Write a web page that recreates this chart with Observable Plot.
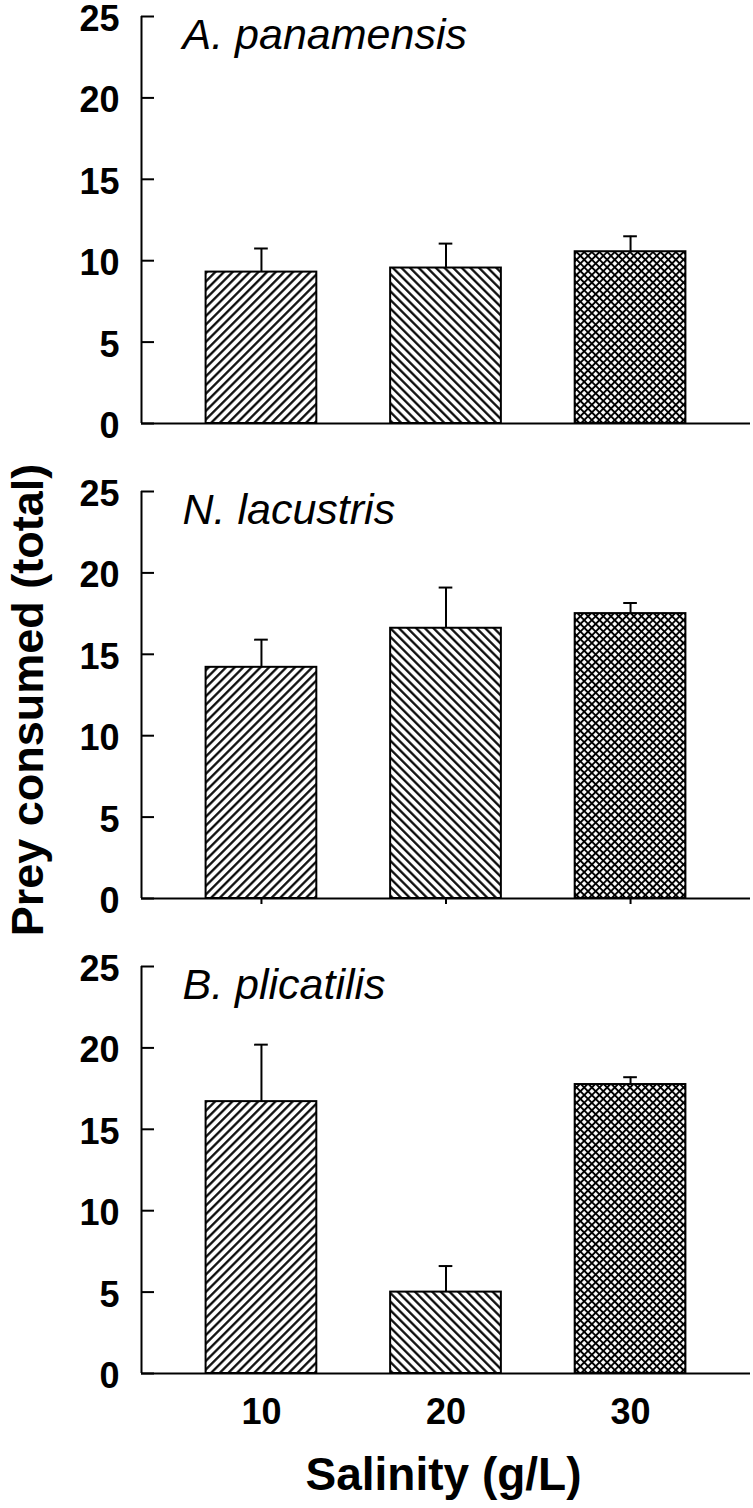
<!DOCTYPE html>
<html><head><meta charset="utf-8">
<script src="https://cdn.jsdelivr.net/npm/d3@7"></script>
<script src="https://cdn.jsdelivr.net/npm/@observablehq/plot@0.6"></script>
<style>
body{margin:0;background:#fff;}
#wrap{position:relative;width:753px;height:1508px;font-family:"Liberation Sans",Arial,sans-serif;background:#fff;}
.panel{position:absolute;left:0;}
#overlay{position:absolute;left:0;top:0;pointer-events:none;}
</style></head><body>
<svg width="0" height="0" style="position:absolute">
  <defs>
    <pattern id="hatch10" patternUnits="userSpaceOnUse" width="6.1" height="6.1" patternTransform="rotate(45)">
      <rect width="6.1" height="6.1" fill="#fff"/>
      <line x1="3" y1="-1" x2="3" y2="8" stroke="#000" stroke-width="2.2"/>
    </pattern>
    <pattern id="hatch20" patternUnits="userSpaceOnUse" width="6.1" height="6.1" patternTransform="rotate(-45)">
      <rect width="6.1" height="6.1" fill="#fff"/>
      <line x1="3" y1="-1" x2="3" y2="8" stroke="#000" stroke-width="2.2"/>
    </pattern>
    <pattern id="hatch30" patternUnits="userSpaceOnUse" width="5.4" height="5.4" patternTransform="rotate(45)">
      <rect width="5.4" height="5.4" fill="#fff"/>
      <line x1="2.7" y1="-1" x2="2.7" y2="7" stroke="#000" stroke-width="1.9"/>
      <line x1="-1" y1="2.7" x2="7" y2="2.7" stroke="#000" stroke-width="1.9"/>
    </pattern>
  </defs>
</svg>
<div id="wrap"></div>
<script>
// ---- data ----
const salinity = [10, 20, 30];
const speciesNames = ["A. panamensis", "N. lacustris", "B. plicatilis"];
const meanPanamensis = [9.3, 9.55, 10.55];
const sePanamensis = [1.45, 1.5, 0.95];
const meanLacustris = [14.2, 16.6, 17.5];
const seLacustris = [1.7, 2.5, 0.65];
const meanPlicatilis = [16.7, 5.0, 17.75];
const sePlicatilis = [3.5, 1.6, 0.45];
const yTicks = [0, 5, 10, 15, 20, 25];
const xDomain = [3.5, 36.5];
const yDomain = [0, 25];
const xTitle = "Salinity (g/L)";
const yTitle = "Prey consumed (total)";

// ---- layout / style ----
const W = 753, ML = 141, MR = 3, MT = 16;
const innerW = W - ML - MR;
const barHalf = 3;
const capHalf = 0.37;
const FONT = "'Liberation Sans', Arial, Helvetica, sans-serif";

const panels = [
  {name: speciesNames[0], means: meanPanamensis, ses: sePanamensis, xaxis: "none", top: 0, height: 475, mb: 52},
  {name: speciesNames[1], means: meanLacustris, ses: seLacustris, xaxis: "ticks", top: 475, height: 475, mb: 52},
  {name: speciesNames[2], means: meanPlicatilis, ses: sePlicatilis, xaxis: "labels", top: 950, height: 558, mb: 135}
];

const wrap = document.getElementById("wrap");

panels.forEach(p => {
  const rows = salinity.map((s, i) => ({sal: s, mean: p.means[i], se: p.ses[i]}));
  const marks = [
    Plot.rect(rows, {
      x1: d => d.sal - barHalf, x2: d => d.sal + barHalf,
      y1: 0, y2: "mean",
      fill: d => `url(#hatch${d.sal})`,
      stroke: "black", strokeWidth: 2
    }),
    Plot.ruleX(rows, {x: "sal", y1: "mean", y2: d => d.mean + d.se, stroke: "black", strokeWidth: 2}),
    Plot.ruleY(rows, {y: d => d.mean + d.se, x1: d => d.sal - capHalf, x2: d => d.sal + capHalf, stroke: "black", strokeWidth: 2}),
    Plot.ruleX([xDomain[0]], {stroke: "black", strokeWidth: 2}),
    Plot.ruleY([0], {stroke: "black", strokeWidth: 2}),
    Plot.tickY(yTicks, {y: d => d, insetRight: innerW - 13, stroke: "black", strokeWidth: 2}),
    Plot.axisY({ticks: yTicks, tickSize: 0, tickPadding: 22, fontSize: 36, fontWeight: "bold", dy: 3}),
    Plot.text([p.name], {
      frameAnchor: "top-left", text: d => d, dx: 41, dy: 32,
      lineAnchor: "bottom", textAnchor: "start",
      fontSize: 43, fontWeight: "normal", fontStyle: "italic", fill: "black"
    })
  ];
  if (p.xaxis === "ticks") {
    marks.push(Plot.axisX({ticks: salinity, tickSize: 6, tickFormat: () => "", strokeWidth: 2}));
  } else if (p.xaxis === "labels") {
    marks.push(Plot.axisX({ticks: salinity, tickSize: 0, tickPadding: 25, fontSize: 36, fontWeight: "bold"}));
  }
  const chart = Plot.plot({
    width: W, height: p.height,
    marginLeft: ML, marginRight: MR, marginTop: MT, marginBottom: p.mb,
    x: p.xaxis === "none"
      ? {type: "linear", domain: xDomain, label: null, axis: null}
      : {type: "linear", domain: xDomain, label: null},
    y: {domain: yDomain, label: null},
    color: {type: "identity"},
    style: {fontFamily: FONT, fontSize: "36px", fontWeight: "bold", color: "black", background: "transparent", overflow: "visible"},
    marks
  });
  const holder = document.createElement("div");
  holder.className = "panel";
  holder.style.top = p.top + "px";
  holder.appendChild(chart);
  wrap.appendChild(holder);
});

// axis titles
const ov = d3.select(wrap).append("svg")
  .attr("id", "overlay").attr("width", W).attr("height", 1508)
  .style("font-family", FONT);
ov.append("text")
  .attr("x", 443.5).attr("y", 1490)
  .attr("text-anchor", "middle")
  .attr("font-size", 46).attr("font-weight", "bold")
  .text(xTitle);
ov.append("text")
  .attr("transform", "translate(43,700) rotate(-90)")
  .attr("text-anchor", "middle")
  .attr("font-size", 45).attr("font-weight", "bold")
  .text(yTitle);
</script>
</body></html>
